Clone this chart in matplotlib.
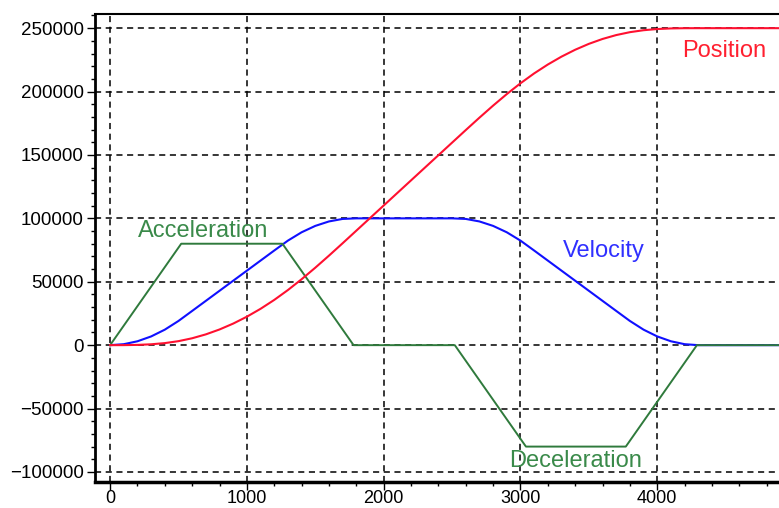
import matplotlib.pyplot as plt
from matplotlib.ticker import MultipleLocator

# time axis in ms
t_ms = [0, 100, 200, 300, 400, 500, 600, 700, 800, 900, 1000, 1100, 1200, 1300,
        1400, 1500, 1600, 1700, 1800, 1900, 2000, 2100, 2200, 2300, 2400, 2500,
        2600, 2700, 2800, 2900, 3000, 3100, 3200, 3300, 3400, 3500, 3600, 3700,
        3800, 3900, 4000, 4100, 4200, 4300, 4900]

position = [0, 25, 202, 681, 1616, 3155, 5439, 8509, 12367, 17014, 22447, 28668,
            35676, 43471, 51987, 61078, 70593, 80380, 90289, 100206, 110124,
            120041, 129959, 139876, 149794, 159711, 169620, 179408, 188923,
            198014, 206529, 214324, 221332, 227553, 232986, 237633, 241491,
            244562, 246846, 248389, 249319, 249798, 249975, 250000, 250000]

velocity = [0, 763, 3054, 6871, 12215, 19087, 26996, 34936, 42876, 50816, 58756,
            66696, 74636, 82454, 89020, 94058, 97570, 99555, 100000, 100000,
            100000, 100000, 100000, 100000, 100000, 100000, 99555, 97570, 94058,
            89020, 82454, 74636, 66696, 58756, 50816, 42876, 34936, 26996, 19087,
            12215, 6871, 3054, 763, 0, 0]

# acceleration profile breakpoints
acc_t = [0, 520, 1260, 1780, 2520, 3040, 3770, 4290, 4900]
acc_v = [0, 80000, 80000, 0, 0, -80000, -80000, 0, 0]

fig = plt.figure(figsize=(7.79, 5.08), dpi=100)
ax = fig.add_axes([0.122, 0.051, 0.878, 0.921])

ax.plot(t_ms, velocity, color='#1010ff', lw=1.5, zorder=3)
ax.plot(acc_t, acc_v, color='#2f7a3c', lw=1.4, zorder=4)
ax.plot(t_ms, position, color='#ff1030', lw=1.5, zorder=5)

font = 'Liberation Sans'
ax.text(4490, 232000, 'Position', color='#ff2030', fontsize=17, family=font,
        ha='center', va='center')
ax.text(3610, 74000, 'Velocity', color='#3030ff', fontsize=17, family=font,
        ha='center', va='center')
ax.text(680, 90000, 'Acceleration', color='#3a8a4a', fontsize=17, family=font,
        ha='center', va='center')
ax.text(3400, -91000, 'Deceleration', color='#3a8a4a', fontsize=17, family=font,
        ha='center', va='center')

ax.set_xlim(-110, 4890)
ax.set_ylim(-108000, 261000)
ax.xaxis.set_major_locator(MultipleLocator(1000))
ax.xaxis.set_minor_locator(MultipleLocator(200))
ax.yaxis.set_major_locator(MultipleLocator(50000))
ax.yaxis.set_minor_locator(MultipleLocator(10000))

ax.grid(True, which='major', color='black', linestyle=(0, (4, 3)), lw=1.1)

ax.spines['right'].set_visible(False)
ax.spines['left'].set_linewidth(2)
ax.spines['bottom'].set_linewidth(2.5)
ax.spines['top'].set_linewidth(1.5)

ax.tick_params(which='major', direction='out', length=6, width=1, labelsize=13.5)
ax.tick_params(axis='x', which='major', pad=0, labelsize=13)
ax.tick_params(axis='y', which='major', pad=2)
ax.tick_params(which='minor', direction='out', length=3, width=1)
for lbl in ax.get_xticklabels() + ax.get_yticklabels():
    lbl.set_family(font)

fig.savefig('out.png', dpi=100)
